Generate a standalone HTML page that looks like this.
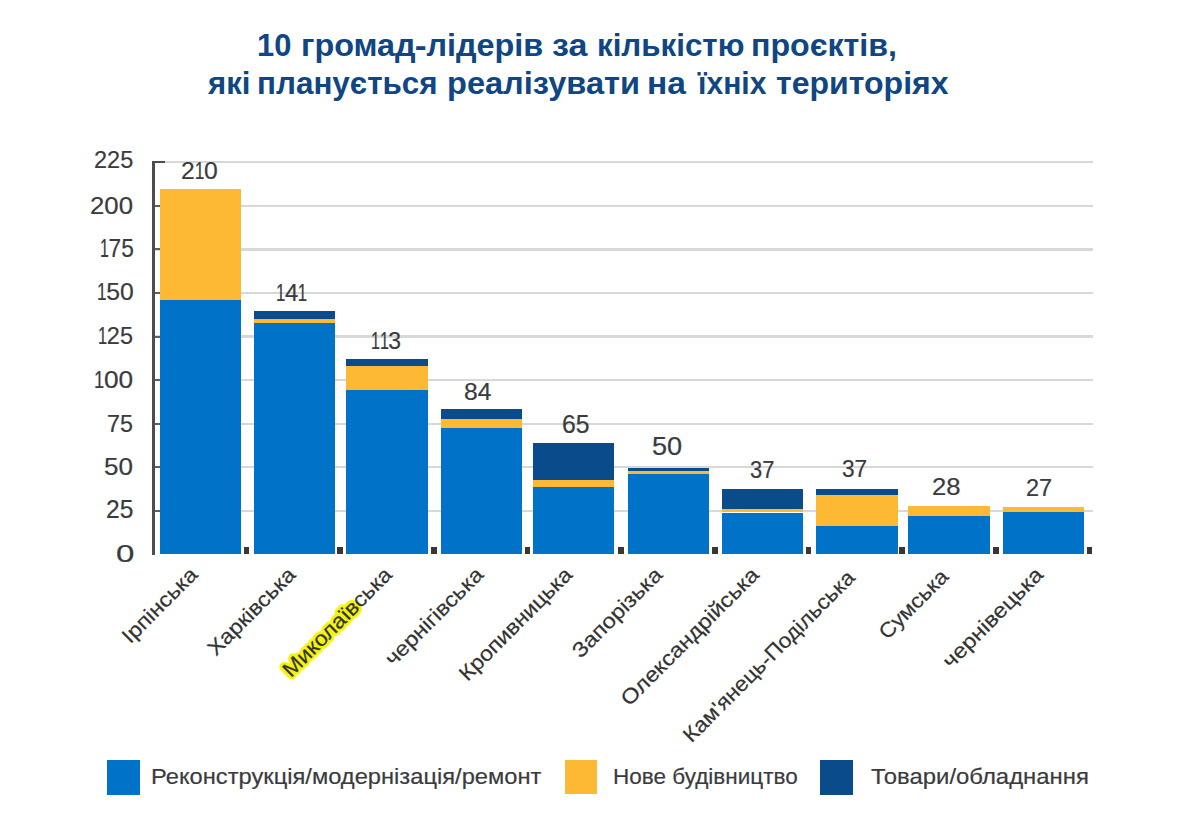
<!DOCTYPE html>
<html><head><meta charset="utf-8">
<style>
html,body{margin:0;padding:0;background:#fff;}
body{width:1200px;height:835px;position:relative;overflow:hidden;font-family:"Liberation Sans",sans-serif;}
.ft,.cl,.lg{-webkit-text-stroke:0.2px currentColor;}
.b{position:absolute;}
.tw{position:absolute;transform-origin:0 0;white-space:nowrap;color:#0f4683;font-weight:bold;font-size:32px;line-height:38px;white-space:nowrap;}
.ft{position:absolute;transform-origin:0 0;white-space:nowrap;font-size:23px;line-height:26px;color:#3b3b3f;}
.one{font-style:normal;display:inline-block;transform:scaleX(0.7);margin:0 -0.09em;}
.yl{position:absolute;left:60px;width:72px;text-align:right;font-size:23px;line-height:27px;color:#3b3b3f;}
.vl{position:absolute;width:80px;text-align:center;font-size:23px;line-height:27px;color:#3b3b3f;}
.cl{position:absolute;white-space:nowrap;transform-origin:100% 50%;font-size:21px;line-height:26px;color:#333;}
.hl{text-shadow:1.5px 0.0px 1px #f3f314,1.3px 0.7px 1px #f3f314,0.8px 1.3px 1px #f3f314,0.0px 1.5px 1px #f3f314,-0.7px 1.3px 1px #f3f314,-1.3px 0.7px 1px #f3f314,-1.5px 0.0px 1px #f3f314,-1.3px -0.8px 1px #f3f314,-0.8px -1.3px 1px #f3f314,-0.0px -1.5px 1px #f3f314,0.8px -1.3px 1px #f3f314,1.3px -0.8px 1px #f3f314,3.0px 0.0px 1px #f3f314,2.6px 1.5px 1px #f3f314,1.5px 2.6px 1px #f3f314,0.0px 3.0px 1px #f3f314,-1.5px 2.6px 1px #f3f314,-2.6px 1.5px 1px #f3f314,-3.0px 0.0px 1px #f3f314,-2.6px -1.5px 1px #f3f314,-1.5px -2.6px 1px #f3f314,-0.0px -3.0px 1px #f3f314,1.5px -2.6px 1px #f3f314,2.6px -1.5px 1px #f3f314;}
.lg{position:absolute;font-size:21.5px;line-height:26px;color:#3b3b3f;white-space:nowrap;transform-origin:0 50%;}
</style></head><body>
<span class="tw" style="left:257.08px;top:25.5px;transform:scaleX(0.9639)">10</span><span class="tw" style="left:300.56px;top:25.5px;transform:scaleX(1.0113)">громад<span style="display:inline-block;transform:scaleX(1.1)">-</span>лідерів</span><span class="tw" style="left:551.89px;top:25.5px;transform:scaleX(1.0622)">за</span><span class="tw" style="left:596.56px;top:25.5px;transform:scaleX(0.9786)">кількістю</span><span class="tw" style="left:751.45px;top:25.5px;transform:scaleX(1.0055)">проєктів,</span><span class="tw" style="left:208.07px;top:63.7px;transform:scaleX(0.9717)">які</span><span class="tw" style="left:257.08px;top:63.7px;transform:scaleX(0.9814)">планується</span><span class="tw" style="left:447.08px;top:63.7px;transform:scaleX(1.0177)">реалізувати</span><span class="tw" style="left:647.08px;top:63.7px;transform:scaleX(1.0491)">на</span><span class="tw" style="left:697.73px;top:63.7px;transform:scaleX(0.9399)">їхніх</span><span class="tw" style="left:775.63px;top:63.7px;transform:scaleX(1.0008)">територіях</span>
<div class="b" style="left:155.00px;top:509.57px;width:938.00px;height:2.20px;background:#d8d8d8;"></div><div class="b" style="left:155.00px;top:466.04px;width:938.00px;height:2.20px;background:#d8d8d8;"></div><div class="b" style="left:155.00px;top:422.50px;width:938.00px;height:2.20px;background:#d8d8d8;"></div><div class="b" style="left:155.00px;top:378.97px;width:938.00px;height:2.20px;background:#d8d8d8;"></div><div class="b" style="left:155.00px;top:335.44px;width:938.00px;height:2.20px;background:#d8d8d8;"></div><div class="b" style="left:155.00px;top:291.91px;width:938.00px;height:2.20px;background:#d8d8d8;"></div><div class="b" style="left:155.00px;top:248.37px;width:938.00px;height:2.20px;background:#d8d8d8;"></div><div class="b" style="left:155.00px;top:204.84px;width:938.00px;height:2.20px;background:#d8d8d8;"></div><div class="b" style="left:155.00px;top:161.31px;width:938.00px;height:2.20px;background:#d8d8d8;"></div><div class="b" style="left:159.80px;top:299.70px;width:81.00px;height:254.30px;background:#0072c8;"></div><div class="b" style="left:159.80px;top:188.75px;width:81.00px;height:110.95px;background:#fdb934;"></div><div class="b" style="left:253.90px;top:322.70px;width:81.50px;height:231.30px;background:#0072c8;"></div><div class="b" style="left:253.90px;top:318.75px;width:81.50px;height:3.95px;background:#fdb934;"></div><div class="b" style="left:253.90px;top:310.50px;width:81.50px;height:8.25px;background:#0a4b8c;"></div><div class="b" style="left:346.10px;top:389.80px;width:81.90px;height:164.20px;background:#0072c8;"></div><div class="b" style="left:346.10px;top:365.90px;width:81.90px;height:23.90px;background:#fdb934;"></div><div class="b" style="left:346.10px;top:358.70px;width:81.90px;height:7.20px;background:#0a4b8c;"></div><div class="b" style="left:440.80px;top:428.30px;width:80.90px;height:125.70px;background:#0072c8;"></div><div class="b" style="left:440.80px;top:419.20px;width:80.90px;height:9.10px;background:#fdb934;"></div><div class="b" style="left:440.80px;top:409.20px;width:80.90px;height:10.00px;background:#0a4b8c;"></div><div class="b" style="left:533.30px;top:486.90px;width:80.90px;height:67.10px;background:#0072c8;"></div><div class="b" style="left:533.30px;top:479.90px;width:80.90px;height:7.00px;background:#fdb934;"></div><div class="b" style="left:533.30px;top:442.60px;width:80.90px;height:37.30px;background:#0a4b8c;"></div><div class="b" style="left:627.50px;top:474.20px;width:81.20px;height:79.80px;background:#0072c8;"></div><div class="b" style="left:627.50px;top:471.30px;width:81.20px;height:2.90px;background:#fdb934;"></div><div class="b" style="left:627.50px;top:467.50px;width:81.20px;height:3.80px;background:#0a4b8c;"></div><div class="b" style="left:722.00px;top:512.50px;width:81.30px;height:41.50px;background:#0072c8;"></div><div class="b" style="left:722.00px;top:509.20px;width:81.30px;height:3.30px;background:#fdb934;"></div><div class="b" style="left:722.00px;top:488.70px;width:81.30px;height:20.50px;background:#0a4b8c;"></div><div class="b" style="left:816.00px;top:526.30px;width:81.50px;height:27.70px;background:#0072c8;"></div><div class="b" style="left:816.00px;top:495.10px;width:81.50px;height:31.20px;background:#fdb934;"></div><div class="b" style="left:816.00px;top:489.20px;width:81.50px;height:5.90px;background:#0a4b8c;"></div><div class="b" style="left:908.00px;top:515.80px;width:82.00px;height:38.20px;background:#0072c8;"></div><div class="b" style="left:908.00px;top:505.80px;width:82.00px;height:10.00px;background:#fdb934;"></div><div class="b" style="left:1002.50px;top:512.25px;width:81.90px;height:41.75px;background:#0072c8;"></div><div class="b" style="left:1002.50px;top:507.25px;width:81.90px;height:5.00px;background:#fdb934;"></div><div class="b" style="left:151.50px;top:160.50px;width:3.50px;height:394.30px;background:#4f4c4b;"></div><div class="b" style="left:155.00px;top:509.67px;width:4.50px;height:2.00px;background:#625c5e;"></div><div class="b" style="left:155.00px;top:466.14px;width:4.50px;height:2.00px;background:#625c5e;"></div><div class="b" style="left:155.00px;top:422.60px;width:4.50px;height:2.00px;background:#625c5e;"></div><div class="b" style="left:155.00px;top:379.07px;width:4.50px;height:2.00px;background:#625c5e;"></div><div class="b" style="left:155.00px;top:335.54px;width:4.50px;height:2.00px;background:#625c5e;"></div><div class="b" style="left:155.00px;top:292.01px;width:4.50px;height:2.00px;background:#625c5e;"></div><div class="b" style="left:155.00px;top:248.47px;width:4.50px;height:2.00px;background:#625c5e;"></div><div class="b" style="left:155.00px;top:204.94px;width:4.50px;height:2.00px;background:#625c5e;"></div><div class="b" style="left:155.00px;top:160.50px;width:9.50px;height:2.80px;background:#4f4c4b;"></div><div class="b" style="left:243.80px;top:547.00px;width:5.60px;height:7.20px;background:#3a3631;"></div><div class="b" style="left:337.45px;top:547.00px;width:5.60px;height:7.20px;background:#3a3631;"></div><div class="b" style="left:431.10px;top:547.00px;width:5.60px;height:7.20px;background:#3a3631;"></div><div class="b" style="left:524.75px;top:547.00px;width:5.60px;height:7.20px;background:#3a3631;"></div><div class="b" style="left:618.40px;top:547.00px;width:5.60px;height:7.20px;background:#3a3631;"></div><div class="b" style="left:712.05px;top:547.00px;width:5.60px;height:7.20px;background:#3a3631;"></div><div class="b" style="left:805.70px;top:547.00px;width:5.60px;height:7.20px;background:#3a3631;"></div><div class="b" style="left:899.35px;top:547.00px;width:5.60px;height:7.20px;background:#3a3631;"></div><div class="b" style="left:993.00px;top:547.00px;width:5.60px;height:7.20px;background:#3a3631;"></div><div class="b" style="left:1086.65px;top:547.00px;width:5.60px;height:7.20px;background:#3a3631;"></div>
<span class="ft" style="left:115.70px;top:539.95px;transform:scale(1.4378,1.0604)">0</span><span class="ft" style="left:105.50px;top:495.10px;transform:scale(1.0705,1.0909)">25</span><span class="ft" style="left:104.30px;top:451.65px;transform:scale(1.1308,1.0716)">50</span><span class="ft" style="left:107.20px;top:409.25px;transform:scale(1.0127,1.0775)">75</span><span class="ft" style="left:93.70px;top:366.00px;transform:scale(1.1411,1.0541)"><i class="one">1</i>00</span><span class="ft" style="left:98.20px;top:322.00px;transform:scale(1.0198,1.0541)"><i class="one">1</i>25</span><span class="ft" style="left:97.10px;top:277.50px;transform:scale(1.0746,1.0541)"><i class="one">1</i>50</span><span class="ft" style="left:99.70px;top:233.60px;transform:scale(0.9874,1.0853)"><i class="one">1</i>75</span><span class="ft" style="left:89.50px;top:192.35px;transform:scale(1.1197,1.0262)">200</span><span class="ft" style="left:93.70px;top:144.90px;transform:scale(1.0216,1.0788)">225</span>
<span class="ft" style="left:180.50px;top:157.50px;transform:scale(1.0726,1.0000)">2<i class="one">1</i>0</span><span class="ft" style="left:275.50px;top:278.50px;transform:scale(1.0378,1.0391)"><i class="one">1</i>4<i class="one">1</i></span><span class="ft" style="left:370.70px;top:326.50px;transform:scale(0.9969,1.0391)"><i class="one">1</i><i class="one">1</i>3</span><span class="ft" style="left:464.45px;top:379.30px;transform:scale(1.0689,1.0027)">84</span><span class="ft" style="left:562.15px;top:409.50px;transform:scale(1.0750,1.0856)">65</span><span class="ft" style="left:651.60px;top:432.15px;transform:scale(1.1793,1.0904)">50</span><span class="ft" style="left:749.75px;top:455.90px;transform:scale(0.9535,1.0706)">37</span><span class="ft" style="left:842.15px;top:456.40px;transform:scale(0.9856,1.0208)">37</span><span class="ft" style="left:932.40px;top:473.20px;transform:scale(1.1149,1.0550)">28</span><span class="ft" style="left:1025.85px;top:472.78px;transform:scale(1.0203,1.0776)">27</span>
<div class="cl" style="right:1005.95px;top:558.25px;transform:rotate(-45deg) scaleX(1.1021)">Ірпінська</div><div class="cl" style="right:907.85px;top:558.25px;transform:rotate(-45deg) scaleX(1.0900)">Харківська</div><div class="cl" style="right:811.20px;top:558.25px;transform:rotate(-45deg) scaleX(1.0843)"><span class="hl">Миколаїв</span>ська</div><div class="cl" style="right:720.75px;top:558.25px;transform:rotate(-45deg) scaleX(1.1037)">чернігівська</div><div class="cl" style="right:631.50px;top:558.25px;transform:rotate(-45deg) scaleX(1.0899)">Кропивницька</div><div class="cl" style="right:541.15px;top:558.25px;transform:rotate(-45deg) scaleX(1.1135)">Запорізька</div><div class="cl" style="right:444.35px;top:558.25px;transform:rotate(-45deg) scaleX(1.1134)">Олександрійська</div><div class="cl" style="right:348.95px;top:560.50px;transform:rotate(-45deg) scaleX(1.0764)">Кам'янець-Подільська</div><div class="cl" style="right:255.20px;top:559.60px;transform:rotate(-45deg) scaleX(1.0683)">Сумська</div><div class="cl" style="right:160.55px;top:558.20px;transform:rotate(-45deg) scaleX(1.1256)">чернівецька</div>
<div class="b" style="left:107.3px;top:759.8px;width:32.8px;height:34.8px;background:#0072c8"></div>
<div class="lg" style="left:151.3px;top:764.2px;transform:scaleX(1.1019)">Реконструкція/модернізація/ремонт</div>
<div class="b" style="left:564.6px;top:760.2px;width:32.9px;height:34.2px;background:#fdb934"></div>
<div class="lg" style="left:613.4px;top:764.2px;transform:scaleX(1.0473)">Нове будівництво</div>
<div class="b" style="left:820.4px;top:760px;width:33px;height:34.6px;background:#0a4b8c"></div>
<div class="lg" style="left:870.8px;top:764.2px;transform:scaleX(1.1115)">Товари/обладнання</div>
</body></html>
